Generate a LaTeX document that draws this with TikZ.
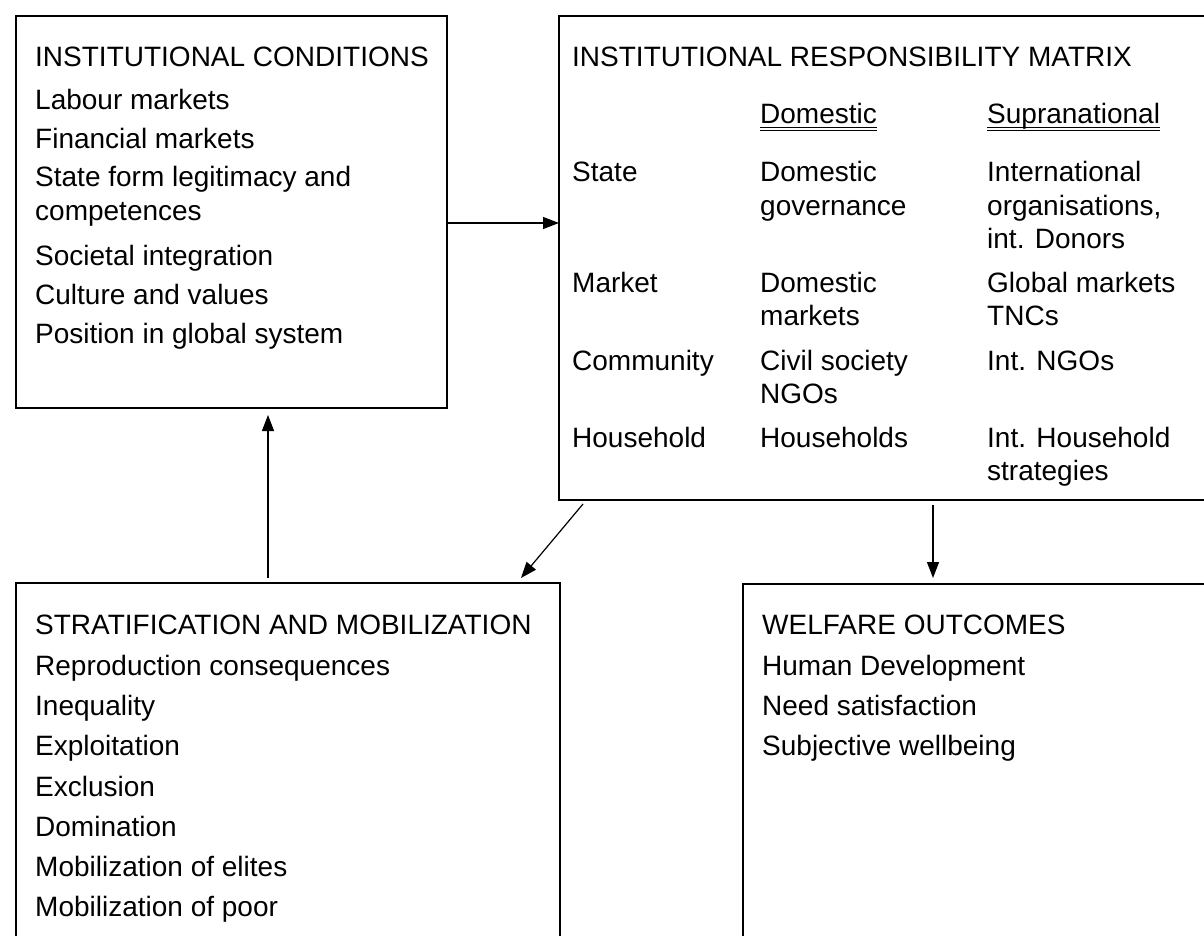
\documentclass[tikz,border=0pt]{standalone}
\usepackage{fontspec}
\setmainfont{Liberation Sans}
\usetikzlibrary{arrows.meta}
\begin{document}
\begin{tikzpicture}[x=1pt,y=-1pt,
  box/.style={draw=black,line width=2.2pt,inner sep=0pt,outer sep=0pt,anchor=north west},
  txt/.style={anchor=base west,inner sep=0pt,font=\fontsize{28}{32}\selectfont},
  arr/.style={line width=1.2pt,-{Triangle[length=16pt,width=12pt]}},
  ul/.style={line width=0.7pt}]
\useasboundingbox (0,0) rectangle (1204,936);
\clip (0,0) rectangle (1204,936);
% boxes
\node[box,minimum width=431pt,minimum height=392pt] (b1) at (16,16) {};
\node[box,minimum width=660pt,minimum height=484pt] (b2) at (559,16) {};
\node[box,minimum width=544pt,minimum height=380pt] (b3) at (16,583) {};
\node[box,minimum width=480pt,minimum height=380pt] (b4) at (743,584) {};
% box 1 text
\node[txt] (t1a) at (35,67) {INSTITUTIONAL CONDITIONS};
\node[txt] (t1b) at (35,110) {Labour markets};
\node[txt] (t1c) at (35,149) {Financial markets};
\node[txt] (t1d) at (35,187) {State form legitimacy and};
\node[txt] (t1e) at (35,220) {competences};
\node[txt] (t1f) at (35,265) {Societal integration};
\node[txt] (t1g) at (35,304) {Culture and values};
\node[txt] (t1h) at (35,343) {Position in global system};
% box 2 text
\node[txt] (t2a) at (572,67) {INSTITUTIONAL RESPONSIBILITY MATRIX};
\node[txt] (h1) at (760,124) {Domestic};
\node[txt] (h2) at (987,124) {Supranational};
\draw[ul] ([yshift=-3.5pt]h1.base west) -- ([yshift=-3.5pt]h1.base east);
\draw[ul] ([yshift=-6pt]h1.base west) -- ([yshift=-6pt]h1.base east);
\draw[ul] ([yshift=-3.5pt]h2.base west) -- ([yshift=-3.5pt]h2.base east);
\draw[ul] ([yshift=-6pt]h2.base west) -- ([yshift=-6pt]h2.base east);
\node[txt] (r1) at (572,182) {State};
\node[txt] (r1a) at (760,182) {Domestic};
\node[txt] (r1b) at (760,215) {governance};
\node[txt] (r1c) at (987,182) {International};
\node[txt] (r1d) at (987,215) {organisations,};
\node[txt] (r1e) at (987,248) {int. Donors};
\node[txt] (r2) at (572,292) {Market};
\node[txt] (r2a) at (760,292) {Domestic};
\node[txt] (r2b) at (760,325) {markets};
\node[txt] (r2c) at (987,292) {Global markets};
\node[txt] (r2d) at (987,325) {TNCs};
\node[txt] (r3) at (572,370) {Community};
\node[txt] (r3a) at (760,370) {Civil society};
\node[txt] (r3b) at (760,403) {NGOs};
\node[txt] (r3c) at (987,370) {Int. NGOs};
\node[txt] (r4) at (572,447) {Household};
\node[txt] (r4a) at (760,447) {Households};
\node[txt] (r4b) at (987,447) {Int. Household};
\node[txt] (r4c) at (987,480) {strategies};
% box 3 text
\node[txt] (t3a) at (35,634) {STRATIFICATION AND MOBILIZATION};
\node[txt] (t3b) at (35,675) {Reproduction consequences};
\node[txt] (t3c) at (35,715) {Inequality};
\node[txt] (t3d) at (35,755) {Exploitation};
\node[txt] (t3e) at (35,796) {Exclusion};
\node[txt] (t3f) at (35,836) {Domination};
\node[txt] (t3g) at (35,876) {Mobilization of elites};
\node[txt] (t3h) at (35,916) {Mobilization of poor};
% box 4 text
\node[txt] (t4a) at (762,634) {WELFARE OUTCOMES};
\node[txt] (t4b) at (762,675) {Human Development};
\node[txt] (t4c) at (762,715) {Need satisfaction};
\node[txt] (t4d) at (762,755) {Subjective wellbeing};
% connectors
\coordinate (yA) at (0,223);
\draw[arr] (b1.east |- yA) -- (b2.west |- yA);
\coordinate (upS) at (268,578);
\coordinate (upE) at (268,415);
\draw[arr] (upS) -- (upE);
\coordinate (dgS) at (583,504);
\coordinate (dgE) at (521,578);
\draw[arr] (dgS) -- (dgE);
\coordinate (dnS) at (933,505);
\coordinate (dnE) at (933,578);
\draw[arr] (dnS) -- (dnE);
\end{tikzpicture}
\end{document}
